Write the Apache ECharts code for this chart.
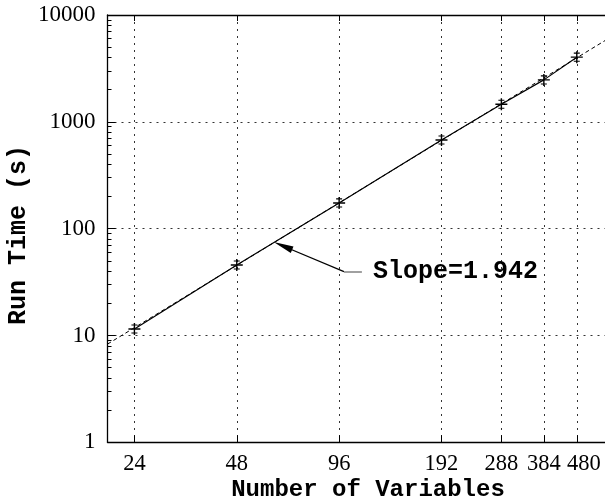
<!DOCTYPE html>
<html>
<head>
<meta charset="utf-8">
<script src="https://cdn.jsdelivr.net/npm/echarts@6/dist/echarts.min.js"></script>
<style>
  html, body { margin: 0; padding: 0; background: #fff; }
  #chart { width: 605px; height: 501px; }
</style>
</head>
<body>
<div id="chart"></div>
<script>
// Problem size vs. measured run time (log-log)
const numVariables = [24, 48, 96, 192, 288, 384, 480];
const runTimes = [11.5, 45.7, 174, 676, 1460, 2470, 4030];

// Power-law fit, drawn between its two end points
const fitSlope = 1.942;
const fitX = [20, 581];
const fitY = [8.3, 5760];

// Axis ticks (x labels are split over several axes so tightly packed labels all stay visible)
const xTicks = [24, 48, 96, 192, 288, 384, 480];
const xLabelsA = [24, 48, 96, 192, 288];
const xLabelsB = [384];
const xLabelsC = [480];
const yTicks = [1, 10, 100, 1000, 10000];
const yMinorTicks = [];
[1, 10, 100, 1000].forEach(function (d) {
  for (let k = 2; k <= 9; k++) yMinorTicks.push(k * d);
});

// Slope annotation: arrow tail, arrow head, and leader end (data coords)
const arrowTail = [99.2, 39.6];
const arrowHead = [65.6, 68.9];
const leaderEnd = [112, 39.6];

const serif = "'Liberation Serif', 'Times New Roman', serif";
const mono = "'Liberation Mono', 'Courier New', monospace";

const chart = echarts.init(document.getElementById('chart'), null, { renderer: 'canvas' });

const gridDots = { color: '#333', width: 1, type: [2, 5] };

const markerPath = 'path://M5.3,0 h1.4 v12 h-1.4 z M0,5.3 h12 v1.4 h-12 z M3,1.4 h6 v1.1 h-6 z M3,9.5 h6 v1.1 h-6 z';

function xLabelStyle(values, padLeft) {
  return {
    show: true, customValues: values, margin: 10, interval: 0, hideOverlap: false,
    showMinLabel: true, showMaxLabel: true,
    padding: [0, 0, 0, padLeft || 0],
    fontFamily: serif, fontSize: 22.5, color: '#000',
    formatter: function (v) { return String(Math.round(v)); }
  };
}

const xMin = 20, xMax = 581;

function labelOnlyXAxis(values, padLeft) {
  return {
    type: 'log', logBase: 10, min: xMin, max: xMax, position: 'bottom',
    axisLine: { show: false },
    axisTick: { show: false },
    axisLabel: xLabelStyle(values, padLeft),
    splitLine: { show: false }
  };
}

chart.setOption({
  animation: false,
  backgroundColor: '#fff',
  grid: { left: 107.5, right: 0, top: 15, bottom: 58.7, containLabel: false },
  xAxis: [
    {
      type: 'log', logBase: 10, min: xMin, max: xMax, position: 'bottom',
      axisLine: { show: true, lineStyle: { color: '#000', width: 1.3 } },
      axisTick: { show: true, inside: true, length: 7, customValues: xTicks, lineStyle: { color: '#000' } },
      axisLabel: xLabelStyle(xLabelsA, 0),
      splitLine: { show: true, lineStyle: gridDots },
      minorTick: { show: false }
    },
    labelOnlyXAxis(xLabelsB, 0),
    labelOnlyXAxis(xLabelsC, 14),
    {
      type: 'log', logBase: 10, min: xMin, max: xMax, position: 'top',
      axisLine: { show: true, lineStyle: { color: '#000', width: 1.3 } },
      axisTick: { show: true, inside: true, length: 6, customValues: xTicks, lineStyle: { color: '#000' } },
      axisLabel: { show: false },
      splitLine: { show: false }
    }
  ],
  yAxis: [
    {
      type: 'log', logBase: 10, min: 1, max: 10000, position: 'left',
      axisLine: { show: true, lineStyle: { color: '#000', width: 1.3 } },
      axisTick: { show: true, inside: true, length: 8, customValues: yTicks, lineStyle: { color: '#000' } },
      axisLabel: {
        show: true, customValues: yTicks, margin: 12, interval: 0, hideOverlap: false,
        showMinLabel: true, showMaxLabel: true,
        fontFamily: serif, fontSize: 23, color: '#000',
        formatter: function (v) { return String(Math.round(v)); }
      },
      splitLine: { show: true, lineStyle: gridDots }
    },
    {
      type: 'log', logBase: 10, min: 1, max: 10000, position: 'left',
      axisLine: { show: false },
      axisTick: { show: true, inside: true, length: 4, customValues: yMinorTicks, lineStyle: { color: '#000' } },
      axisLabel: { show: false },
      splitLine: { show: false }
    }
  ],
  series: [
    {
      name: 'fit',
      type: 'line',
      data: fitX.map(function (x, i) { return [x, fitY[i]]; }),
      showSymbol: false,
      lineStyle: { color: '#000', width: 1, type: [4, 3] },
      silent: true,
      z: 2,
      markLine: {
        silent: true,
        animation: false,
        label: { show: false },
        data: [
          [
            { coord: arrowTail, symbol: 'none', lineStyle: { color: '#000', width: 1.2, type: 'solid' } },
            { coord: arrowHead, symbol: 'triangle', symbolSize: [7, 20] }
          ],
          [
            { coord: arrowTail, symbol: 'none', lineStyle: { color: '#888', width: 1.6, type: 'solid' } },
            {
              coord: leaderEnd, symbol: 'none',
              label: {
                show: true, position: 'end', distance: 11,
                formatter: 'Slope=' + fitSlope.toFixed(3),
                fontFamily: mono, fontWeight: 'bold', fontSize: 25, color: '#000'
              }
            }
          ]
        ]
      }
    },
    {
      name: 'Run Time',
      type: 'line',
      data: numVariables.map(function (x, i) { return [x, runTimes[i]]; }),
      symbol: markerPath,
      symbolSize: 12,
      showSymbol: true,
      itemStyle: { color: '#000' },
      lineStyle: { color: '#000', width: 1.2 },
      z: 3
    }
  ],
  graphic: [
    {
      type: 'text',
      x: 19, y: 235, rotation: Math.PI / 2,
      style: {
        text: 'Run Time (s)', fill: '#000',
        font: "bold 25px 'Liberation Mono', 'Courier New', monospace",
        align: 'center', verticalAlign: 'middle'
      }
    },
    {
      type: 'text',
      x: 368, y: 490,
      style: {
        text: 'Number of Variables', fill: '#000',
        font: "bold 24px 'Liberation Mono', 'Courier New', monospace",
        align: 'center', verticalAlign: 'middle'
      }
    }
  ]
});
</script>
</body>
</html>
